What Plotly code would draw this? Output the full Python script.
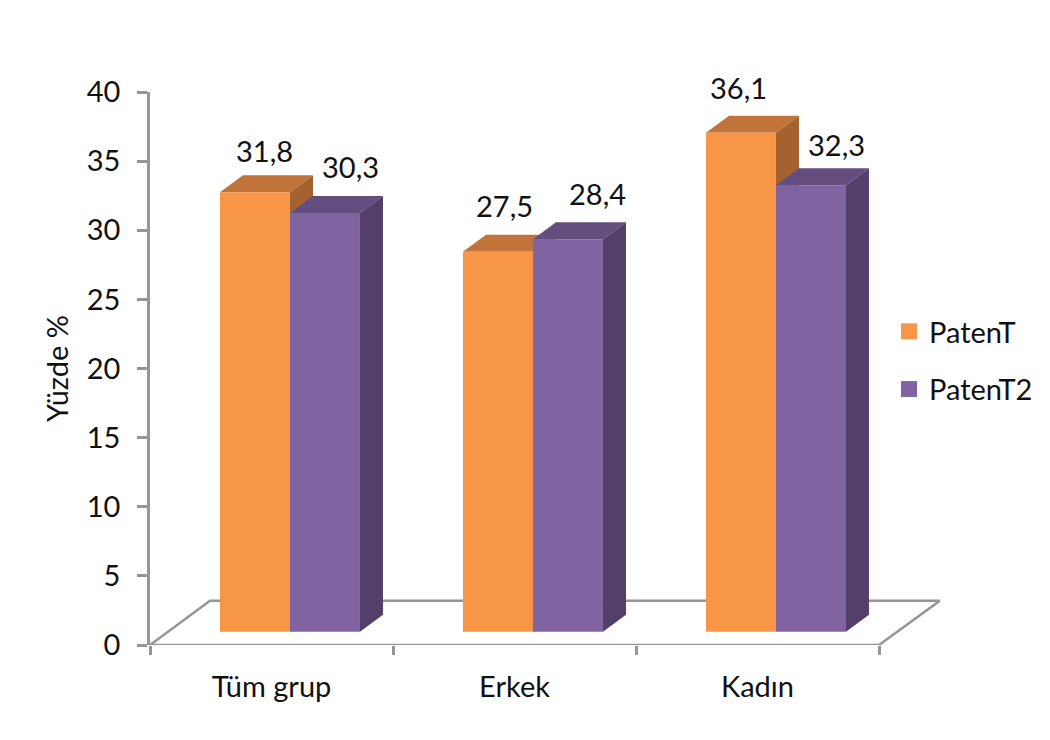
import plotly.graph_objects as go

categories = ["Tüm grup", "Erkek", "Kadın"]
patent = [31.8, 27.5, 36.1]
patent2 = [30.3, 28.4, 32.3]
value_labels_1 = ["31,8", "27,5", "36,1"]
value_labels_2 = ["30,3", "28,4", "32,3"]
y_ticks = [0, 5, 10, 15, 20, 25, 30, 35, 40]

FONT = "Lato"
SIZE = 29
TXT = "#111111"
GREY = "#969696"
ORANGE = "#F79646"
ORANGE_TOP = "#C0743A"
ORANGE_SIDE = "#A5622E"
PURPLE = "#8064A2"
PURPLE_TOP = "#644E80"
PURPLE_SIDE = "#533F69"

W, H = 1050, 740
L, R, T, B = 150, 110, 92, 95
PX_X = 243.0
PX_Y = (H - T - B) / 40.0
X_MAX = (W - L - R) / PX_X

BASE = 0.95
BAR_W = 70 / PX_X
OFF_1 = -0.212
OFF_2 = OFF_1 + BAR_W
DX = 23 / PX_X
DY = 17 / PX_Y
xpos = [i + 0.5 for i in range(len(categories))]


def faces(values, offset):
    top_x, top_y, side_x, side_y = [], [], [], []
    for c, v in zip(xpos, values):
        x0 = c + offset
        x1 = x0 + BAR_W
        y1 = v + BASE
        top_x += [x0, x0 + DX, x1 + DX, x1, x0, None]
        top_y += [y1, y1 + DY, y1 + DY, y1, y1, None]
        side_x += [x1, x1 + DX, x1 + DX, x1, x1, None]
        side_y += [y1, y1 + DY, BASE + DY, BASE, y1, None]
    return top_x, top_y, side_x, side_y


def poly(x, y, color):
    return go.Scatter(x=x, y=y, mode="lines", fill="toself", fillcolor=color,
                      line=dict(width=0, color=color), hoverinfo="skip",
                      showlegend=False, xaxis="x", yaxis="y")


fig = go.Figure()

# floor
fig.add_trace(go.Scatter(
    x=[0, 60 / PX_X, X_MAX - 1e-3, 3, 0], y=[0, 3.2, 3.2, 0, 0], mode="lines",
    line=dict(color=GREY, width=2.5), fill="toself", fillcolor="white",
    hoverinfo="skip", showlegend=False, xaxis="x", yaxis="y"))

t1x, t1y, s1x, s1y = faces(patent, OFF_1)
t2x, t2y, s2x, s2y = faces(patent2, OFF_2)
fig.add_trace(poly(t1x, t1y, ORANGE_TOP))
fig.add_trace(poly(s1x, s1y, ORANGE_SIDE))
fig.add_trace(poly(t2x, t2y, PURPLE_TOP))
fig.add_trace(poly(s2x, s2y, PURPLE_SIDE))

# front faces, on the overlaying axis so they cover the faces behind them
fig.add_trace(go.Bar(x=xpos, y=patent, base=BASE, offset=OFF_1, width=BAR_W,
                     marker=dict(color=ORANGE, line=dict(width=0)),
                     showlegend=False, xaxis="x2", yaxis="y"))
fig.add_trace(go.Bar(x=xpos, y=patent2, base=BASE, offset=OFF_2, width=BAR_W,
                     marker=dict(color=PURPLE, line=dict(width=0)),
                     showlegend=False, xaxis="x2", yaxis="y"))

# legend entries
for name, color, group in (("PatenT", ORANGE, "a"), ("PatenT2", PURPLE, "b")):
    fig.add_trace(go.Scatter(x=[None], y=[None], mode="markers", name=name,
                             legendgroup=group,
                             marker=dict(symbol="square", size=16, color=color),
                             xaxis="x", yaxis="y"))

shifts_1 = [(10, 42), (7, 46), (-2, 45)]
shifts_2 = [(26, 46), (30, 46), (26, 41)]
annotations = []
for vals, labels, offset, shifts in ((patent, value_labels_1, OFF_1, shifts_1),
                                     (patent2, value_labels_2, OFF_2, shifts_2)):
    for c, v, lab, (sx, sy) in zip(xpos, vals, labels, shifts):
        annotations.append(dict(x=c + offset + BAR_W / 2, y=v + BASE, xref="x", yref="y",
                                text=lab, showarrow=False, xshift=sx, yshift=sy,
                                xanchor="center", yanchor="middle",
                                font=dict(family=FONT, size=SIZE, color=TXT)))

fig.update_layout(
    width=W, height=H, autosize=False,
    margin=dict(l=L, r=R, t=T, b=B, pad=0),
    paper_bgcolor="white", plot_bgcolor="rgba(0,0,0,0)",
    barmode="overlay",
    font=dict(family=FONT, size=SIZE, color=TXT),
    annotations=annotations,
    legend=dict(x=(889 - L) / (W - L - R), y=(H - B - 306) / (H - T - B), xanchor="left", yanchor="top",
                bgcolor="rgba(0,0,0,0)", tracegroupgap=17,
                font=dict(family=FONT, size=SIZE, color=TXT), itemsizing="trace"),
    xaxis=dict(range=[0, X_MAX], tickmode="array", tickvals=xpos, ticktext=categories,
               ticks="", showline=False, showgrid=False, zeroline=False, ticklabelstandoff=22,
               tickfont=dict(family=FONT, size=SIZE, color=TXT),
               minor=dict(tickmode="array", tickvals=[0, 1, 2, 3], ticks="outside",
                          ticklen=9, tickwidth=2.5, tickcolor=GREY, showgrid=False)),
    xaxis2=dict(range=[0, X_MAX], overlaying="x", anchor="y", visible=False),
    yaxis=dict(range=[0, 40], tickmode="array", tickvals=y_ticks, ticks="outside",
               ticklen=10, tickwidth=2.5, tickcolor=GREY, showline=True, linecolor=GREY,
               linewidth=2.5, showgrid=False, zeroline=False, ticklabelstandoff=11,
               tickfont=dict(family=FONT, size=SIZE, color=TXT),
               title=dict(text="Yüzde %", font=dict(family=FONT, size=SIZE, color=TXT), standoff=10)),
)

fig.write_html("out.html", config=dict(displayModeBar=False),
               post_script="document.body.style.margin='0';")
